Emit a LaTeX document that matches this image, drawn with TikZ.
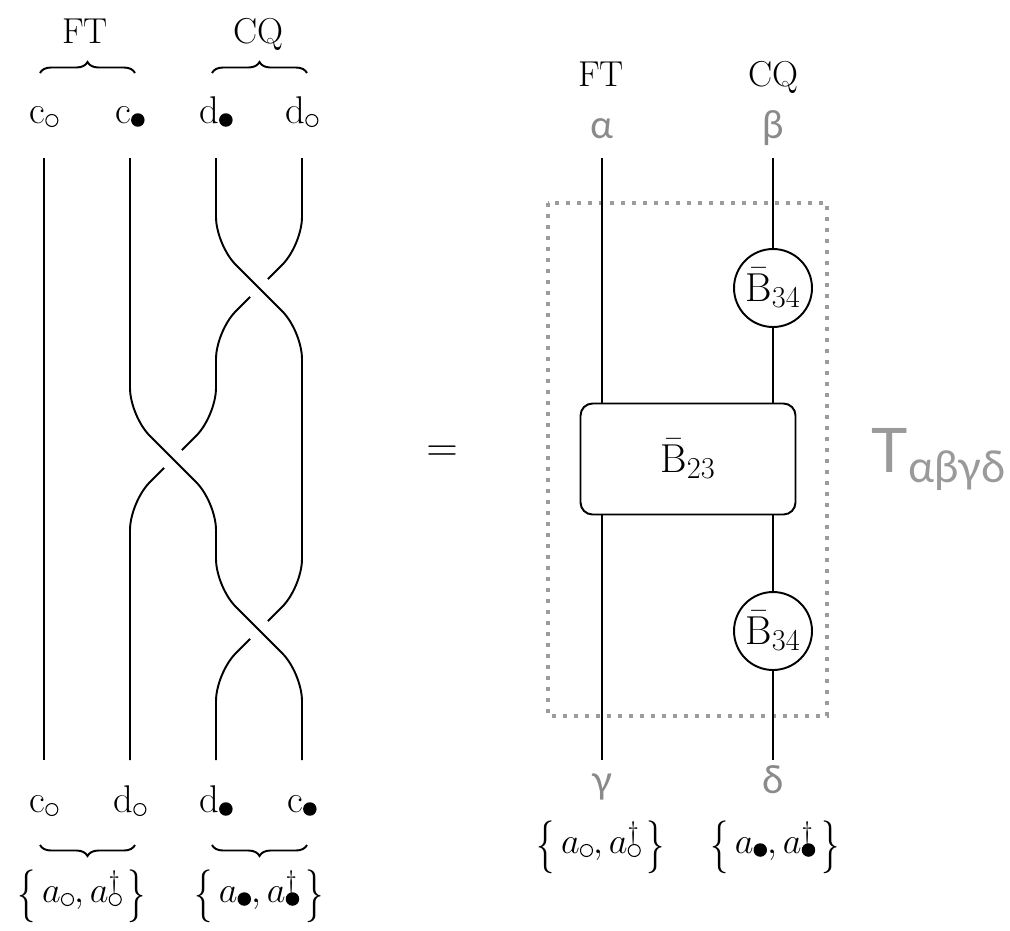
\documentclass[tikz,border=0pt]{standalone}
\usepackage{fontspec}
\usepackage{graphicx}
\newfontfamily\grk{Lato}
\usetikzlibrary{decorations.pathreplacing}
\definecolor{lbl}{HTML}{8A8A8A}
\definecolor{tlbl}{HTML}{9A9A9A}
\definecolor{dotc}{HTML}{9C9C9C}
\newcommand\wcirc{\tikz[baseline=0pt]\draw[line width=0.6pt,black] (0cm,0.05cm) circle[radius=0.12cm];}
\newcommand\bcirc{\tikz[baseline=0pt]\fill[black] (0cm,0.06cm) circle[radius=0.135cm];}
\newcommand\lbr{\raisebox{-4.5pt}{\scalebox{1}[1.45]{$\{$}}}
\newcommand\rbr{\raisebox{-4.5pt}{\scalebox{1}[1.45]{$\}$}}}
\begin{document}
\begin{tikzpicture}[x=0.02cm,y=-0.02cm,line width=1.1pt,
  lab/.style={anchor=base,inner sep=0pt,font=\fontsize{22}{26}\selectfont},
  hdr/.style={anchor=base,inner sep=0pt,font=\fontsize{20.5}{24}\selectfont},
  glab/.style={anchor=base,inner sep=0pt,font=\grk\fontsize{22}{26}\selectfont,text=lbl},
  strand/.style={rounded corners=0.56cm},
  over/.style={strand,preaction={draw=white,line width=0.5cm}},
  brc/.style={decorate,decoration={brace,amplitude=0.22cm}},
  dotbox/.style={draw=dotc,line width=0.08cm,dash pattern=on 0.08cm off 0.14cm},
  blob/.style={draw,circle,minimum size=1.56cm,inner sep=0pt,font=\fontsize{23}{27}\selectfont},
  gate/.style={draw,rounded corners=0.24cm,minimum width=4.3cm,minimum height=2.22cm,font=\fontsize{23}{27}\selectfont}]
\useasboundingbox (0,0) rectangle (1010,930);

% ---------- left: braid ----------
\node[hdr] (ftL) at (85,43) {FT};
\node[hdr] (cqL) at (258,43) {CQ};
\draw[brc] (40,73) -- (135,73);
\draw[brc] (212,73) -- (307,73);
\node[lab] (t1) at (44,123) {c\wcirc};
\node[lab] (t2) at (130,123) {c\bcirc};
\node[lab] (t3) at (216,123) {d\bcirc};
\node[lab] (t4) at (302,123) {d\wcirc};

\coordinate (sA) at (44,158);  \coordinate (eA) at (44,760);
\coordinate (sB) at (130,158); \coordinate (eB) at (130,760);
\coordinate (sC) at (216,158); \coordinate (eC) at (216,760);
\coordinate (sD) at (302,158); \coordinate (eD) at (302,760);

\draw (sA) -- (eA);
\draw[strand] (sD) -- (302,245) -- (216,331) -- (216,416) -- (130,502) -- (eB);
\draw[over] (sC) -- (216,245) -- (302,331) -- (302,587) -- (216,673) -- (eC);
\draw[over] (sB) -- (130,416) -- (216,502) -- (216,587) -- (302,673) -- (eD);

\node[lab] (b1) at (44,812) {c\wcirc};
\node[lab] (b2) at (130,812) {d\wcirc};
\node[lab] (b3) at (216,812) {d\bcirc};
\node[lab] (b4) at (302,812) {c\bcirc};
\draw[brc] (135,845) -- (40,845);
\draw[brc] (307,845) -- (212,845);
\node[lab] (setL1) at (82,902) {\lbr$\,a\wcirc, a\rlap{$^{\dagger}$}\wcirc\,$\rbr};
\node[lab] (setL2) at (259,902) {\lbr$\,a\bcirc, a\rlap{$^{\dagger}$}\bcirc\,$\rbr};

% ---------- equals ----------
\node[inner sep=0pt,font=\fontsize{40}{40}\selectfont] (eq) at (442,454) {$=$};

% ---------- right: tensor ----------
\draw[dotbox] (548,203) rectangle (827,716);
\node[hdr] (ftR) at (601,86) {FT};
\node[hdr] (cqR) at (773,86) {CQ};
\node[glab] (al) at (602,138) {α};
\node[glab] (be) at (773,138) {β};
\node[glab] (ga) at (602,793) {γ};
\node[glab] (de) at (773,793) {δ};

\node[gate] (b23) at (688,459) {$\bar{\mathrm{B}}_{23}$};
\node[blob] (c1) at (773,288) {$\bar{\mathrm{B}}_{34}$};
\node[blob] (c2) at (773,631) {$\bar{\mathrm{B}}_{34}$};

\coordinate (rL1) at (602,158); \coordinate (rL2) at (602,760);
\coordinate (rR1) at (773,158); \coordinate (rR2) at (773,760);
\draw (rL1) -- (rL1 |- b23.north);
\draw (b23.south -| rL2) -- (rL2);
\draw (rR1) -- (c1.north);
\draw (c1.south) -- (c1.south |- b23.north);
\draw (b23.south -| rR2) -- (c2.north);
\draw (c2.south) -- (rR2);

\node[lab] (setR1) at (601,853) {\lbr$\,a\wcirc, a\rlap{$^{\dagger}$}\wcirc\,$\rbr};
\node[lab] (setR2) at (775,853) {\lbr$\,a\bcirc, a\rlap{$^{\dagger}$}\bcirc\,$\rbr};

\node[anchor=base west,inner sep=0pt,text=tlbl,font=\grk\fontsize{35}{40}\selectfont] (T) at (871,472)
  {T\raisebox{-0.2cm}{\fontsize{25}{28}\selectfont αβγδ}};
\end{tikzpicture}
\end{document}
